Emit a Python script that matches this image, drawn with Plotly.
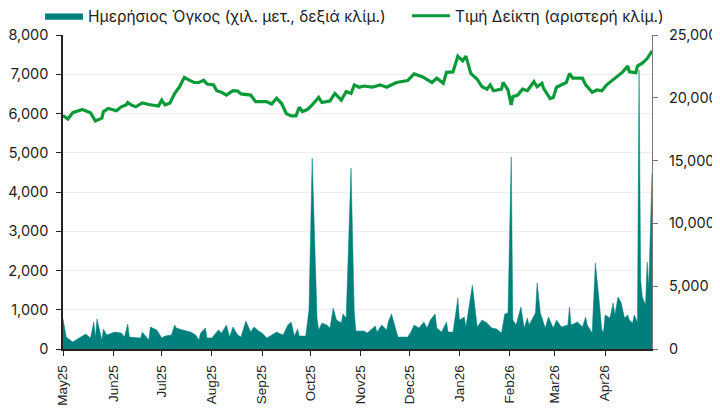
import plotly.graph_objects as go

# Index (left axis)
index_dates = [
    "2025-05-01", "2025-05-04", "2025-05-07", "2025-05-13", "2025-05-18", "2025-05-21", "2025-05-25",
    "2025-05-26", "2025-05-29", "2025-06-03", "2025-06-06", "2025-06-09", "2025-06-10", "2025-06-12",
    "2025-06-15", "2025-06-19", "2025-06-23", "2025-06-29", "2025-07-01", "2025-07-03", "2025-07-06",
    "2025-07-09", "2025-07-12", "2025-07-15", "2025-07-18", "2025-07-21", "2025-07-24", "2025-07-27",
    "2025-07-29", "2025-08-02", "2025-08-04", "2025-08-07", "2025-08-10", "2025-08-14", "2025-08-17",
    "2025-08-19", "2025-08-25", "2025-08-28", "2025-09-01", "2025-09-04", "2025-09-07", "2025-09-10",
    "2025-09-13", "2025-09-16", "2025-09-19", "2025-09-22", "2025-09-24", "2025-09-26", "2025-09-29",
    "2025-10-02", "2025-10-06", "2025-10-08", "2025-10-13", "2025-10-16", "2025-10-20", "2025-10-23",
    "2025-10-26", "2025-10-28", "2025-10-31", "2025-11-03", "2025-11-08", "2025-11-13", "2025-11-17",
    "2025-11-23", "2025-11-30", "2025-12-04", "2025-12-09", "2025-12-15", "2025-12-18", "2025-12-22",
    "2025-12-24", "2025-12-28", "2025-12-31", "2026-01-03", "2026-01-05", "2026-01-08", "2026-01-12",
    "2026-01-15", "2026-01-18", "2026-01-20", "2026-01-22", "2026-01-27", "2026-01-28", "2026-01-31",
    "2026-02-02", "2026-02-03", "2026-02-06", "2026-02-09", "2026-02-12", "2026-02-16", "2026-02-18",
    "2026-02-21", "2026-02-22", "2026-02-26", "2026-02-28", "2026-03-02", "2026-03-08", "2026-03-10",
    "2026-03-12", "2026-03-18", "2026-03-20", "2026-03-24", "2026-03-27", "2026-03-30", "2026-04-02",
    "2026-04-07", "2026-04-09", "2026-04-12", "2026-04-15", "2026-04-16", "2026-04-20", "2026-04-21",
    "2026-04-24", "2026-04-27", "2026-04-30",
]
index_values = [
    5950, 5860, 6020, 6100, 6020, 5810, 5880,
    6050, 6130, 6070, 6170, 6220, 6280, 6220,
    6170, 6270, 6230, 6190, 6340, 6220, 6260,
    6510, 6680, 6920, 6850, 6790, 6790, 6850,
    6750, 6730, 6580, 6540, 6470, 6580, 6570,
    6500, 6470, 6300, 6300, 6300, 6240, 6390,
    6260, 6000, 5940, 5940, 6160, 6050, 6100,
    6220, 6410, 6280, 6320, 6510, 6340, 6560,
    6510, 6730, 6670, 6700, 6670, 6730, 6670,
    6790, 6840, 7010, 6940, 6790, 6900, 6770,
    7050, 7060, 7460, 7340, 7460, 7020, 6870,
    6680, 6620, 6730, 6580, 6620, 6790, 6600,
    6220, 6430, 6470, 6620, 6580, 6810, 6680,
    6770, 6640, 6380, 6410, 6670, 6790, 7020,
    6900, 6900, 6730, 6540, 6600, 6580, 6730,
    6900, 6960, 7060, 7210, 7060, 7040, 7210,
    7280, 7400, 7590,
]

# Daily volume (right axis)
volume_dates = [
    "2025-05-01", "2025-05-03", "2025-05-07", "2025-05-11", "2025-05-15", "2025-05-18", "2025-05-20",
    "2025-05-21", "2025-05-22", "2025-05-25", "2025-05-26", "2025-05-28", "2025-06-02", "2025-06-06",
    "2025-06-08", "2025-06-10", "2025-06-11", "2025-06-18", "2025-06-19", "2025-06-23", "2025-06-24",
    "2025-06-28", "2025-07-01", "2025-07-03", "2025-07-07", "2025-07-09", "2025-07-10", "2025-07-14",
    "2025-07-19", "2025-07-22", "2025-07-24", "2025-07-25", "2025-07-28", "2025-07-29", "2025-08-01",
    "2025-08-05", "2025-08-07", "2025-08-10", "2025-08-12", "2025-08-14", "2025-08-17", "2025-08-19",
    "2025-08-22", "2025-08-25", "2025-08-27", "2025-08-30", "2025-09-01", "2025-09-04", "2025-09-07",
    "2025-09-10", "2025-09-14", "2025-09-17", "2025-09-19", "2025-09-21", "2025-09-23", "2025-09-24",
    "2025-09-28", "2025-09-30", "2025-10-02", "2025-10-05", "2025-10-06", "2025-10-08", "2025-10-11",
    "2025-10-13", "2025-10-15", "2025-10-17", "2025-10-20", "2025-10-21", "2025-10-23", "2025-10-26",
    "2025-10-28", "2025-10-29", "2025-11-03", "2025-11-05", "2025-11-10", "2025-11-11", "2025-11-14",
    "2025-11-17", "2025-11-18", "2025-11-20", "2025-11-24", "2025-11-30", "2025-12-02", "2025-12-04",
    "2025-12-07", "2025-12-10", "2025-12-12", "2025-12-14", "2025-12-17", "2025-12-18", "2025-12-21",
    "2025-12-24", "2025-12-25", "2025-12-28", "2025-12-30", "2025-12-31", "2026-01-01", "2026-01-04",
    "2026-01-05", "2026-01-09", "2026-01-12", "2026-01-15", "2026-01-18", "2026-01-21", "2026-01-24",
    "2026-01-27", "2026-01-29", "2026-01-31", "2026-02-02", "2026-02-03", "2026-02-05", "2026-02-08",
    "2026-02-10", "2026-02-12", "2026-02-13", "2026-02-17", "2026-02-18", "2026-02-20", "2026-02-23",
    "2026-02-25", "2026-02-28", "2026-03-02", "2026-03-05", "2026-03-09", "2026-03-10", "2026-03-11",
    "2026-03-15", "2026-03-18", "2026-03-20", "2026-03-21", "2026-03-24", "2026-03-26", "2026-03-28",
    "2026-03-30", "2026-03-31", "2026-04-01", "2026-04-04", "2026-04-06", "2026-04-07", "2026-04-09",
    "2026-04-11", "2026-04-13", "2026-04-15", "2026-04-16", "2026-04-18", "2026-04-19", "2026-04-21",
    "2026-04-22", "2026-04-23", "2026-04-24", "2026-04-26", "2026-04-27", "2026-04-28", "2026-04-29",
    "2026-04-30",
]
volume_values = [
    2400, 950, 560, 880, 1190, 880, 2150,
    880, 2400, 720, 1590, 1110, 1350, 1270,
    950, 1990, 950, 880, 1350, 720, 1750,
    1510, 880, 1030, 1110, 1910, 1670, 1510,
    1350, 1110, 720, 1270, 1670, 880, 880,
    1510, 1270, 1910, 950, 1750, 1110, 950,
    2230, 1350, 1750, 1430, 1270, 880, 1110,
    1350, 1110, 1910, 2150, 1030, 1590, 1030,
    1030, 3100, 15200, 2470, 1510, 2070, 1910,
    1670, 3260, 2310, 2070, 2790, 2470, 14400,
    2950, 1430, 1430, 1270, 1830, 1350, 1910,
    1510, 2150, 2790, 950, 950, 1350, 1910,
    1670, 2150, 1670, 2310, 2790, 1670, 1350,
    2150, 1350, 1350, 3100, 4060, 2310, 2550,
    1750, 5100, 1750, 2310, 2070, 1670, 1590,
    1270, 2790, 2870, 15300, 2310, 1910, 3340,
    1670, 2470, 1910, 2870, 5250, 2870, 1670,
    2550, 1670, 2310, 1750, 1910, 3340, 1910,
    2150, 1750, 2550, 1910, 1270, 6850, 4300,
    1510, 1350, 2710, 2470, 3660, 2710, 4140,
    3660, 2470, 2710, 2310, 2070, 2710, 2150,
    22200, 5500, 4140, 3500, 6930, 4940, 10500,
    14000,
]

tick_dates = ["2025-05-01", "2025-06-01", "2025-07-01", "2025-08-01", "2025-09-01", "2025-10-01",
              "2025-11-01", "2025-12-01", "2026-01-01", "2026-02-01", "2026-03-01", "2026-04-01"]
tick_labels = ["May25", "Jun25", "Jul25", "Aug25", "Sep25", "Oct25",
               "Nov25", "Dec25", "Jan26", "Feb26", "Mar26", "Apr26"]

volume_name = "Ημερήσιος Όγκος (χιλ. μετ., δεξιά κλίμ.)"
index_name = "Τιμή Δείκτη (αριστερή κλίμ.)"

TEAL = "#00807d"
GREEN = "#0a9a38"
FONT = "Inter, Noto Sans, sans-serif"

fig = go.Figure()
fig.add_trace(go.Scatter(
    x=volume_dates, y=volume_values, name=volume_name, mode="lines",
    fill="tozeroy", fillcolor=TEAL, line=dict(color=TEAL, width=0.5), yaxis="y",
    legend="legend",
))
fig.add_trace(go.Scatter(
    x=index_dates, y=index_values, name=index_name, mode="lines",
    line=dict(color=GREEN, width=3.2), yaxis="y2", legend="legend2",
))

legend_common = dict(orientation="h", xanchor="left", yanchor="middle", y=1.06,
                     font=dict(size=15.5, color="#222"), bgcolor="rgba(0,0,0,0)",
                     itemwidth=38)

fig.update_layout(
    width=712, height=400,
    margin=dict(l=55, r=68, t=27, b=59, autoexpand=False),
    paper_bgcolor="white", plot_bgcolor="white",
    font=dict(family=FONT, size=15, color="#222"),
    showlegend=True,
    legend=dict(x=-0.039, **legend_common),
    legend2=dict(x=0.584, **legend_common),
    xaxis=dict(
        type="date", range=["2025-05-01", "2026-04-30"],
        tickmode="array", tickvals=tick_dates, ticktext=tick_labels,
        tickangle=-90, ticks="outside", ticklen=5, tickcolor="#222",
        showline=True, linecolor="#222", linewidth=1.5, showgrid=False,
        ticklabelstandoff=4,
        tickfont=dict(family="Liberation Sans, Arial, sans-serif", size=13.5, color="#222"),
    ),
    yaxis=dict(
        side="right", range=[0, 25000], tickvals=[0, 5000, 10000, 15000, 20000, 25000],
        tickformat=",", showgrid=False, zeroline=False,
        showline=True, linecolor="#777", linewidth=1, ticks="outside", ticklen=5, tickcolor="#777",
        ticklabelstandoff=8,
        tickfont=dict(size=14.5, color="#222"),
    ),
    yaxis2=dict(
        side="left", overlaying="y", range=[0, 8000], dtick=1000, tickformat=",",
        showgrid=True, gridcolor="#eeeeee", gridwidth=1, zeroline=False,
        showline=True, linecolor="#222", linewidth=1.5, ticks="outside", ticklen=5, tickcolor="#222",
        ticklabelstandoff=5,
        tickfont=dict(size=14.5, color="#222"),
    ),
)

fig.write_html("out.html")
